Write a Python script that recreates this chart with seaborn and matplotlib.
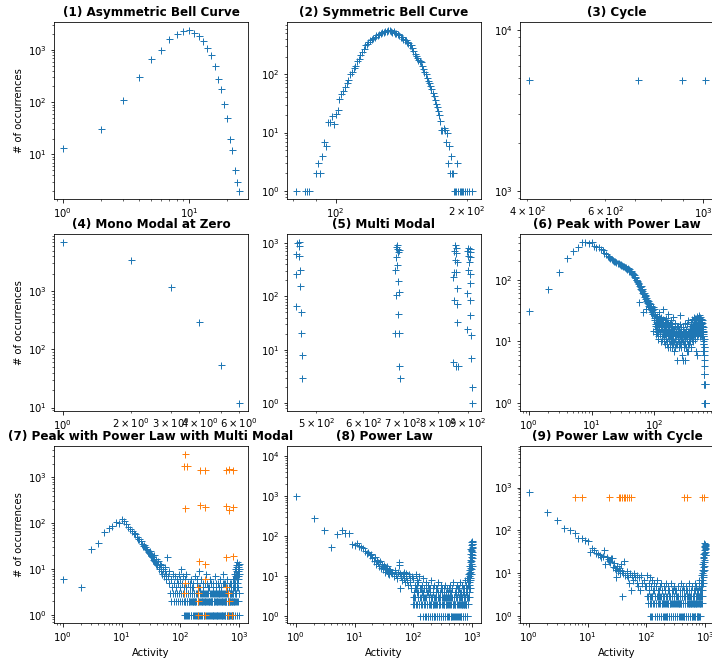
import matplotlib
matplotlib.use("Agg")
import matplotlib.pyplot as plt
import seaborn as sns

# (1) Asymmetric Bell Curve
x1 = [1, 2, 3, 4, 5, 6, 7, 8, 9, 10, 11, 12, 13, 14, 15, 16, 17, 18, 19, 20, 21, 22, 23, 24, 25]
y1 = [13, 30, 110, 300, 680, 1000, 1620, 2050, 2350, 2400, 2150, 1850, 1480, 1100, 800,
      490, 280, 180, 92, 50, 20, 12, 5, 3, 2]

# (2) Symmetric Bell Curve
x2 = [81, 85, 86, 87,
      90, 91, 92, 93, 94, 95, 96, 97, 98, 99,
      100, 101, 102, 103, 104, 105, 106, 107, 108, 109,
      110, 111, 112, 113, 114, 115, 116, 117, 118, 119,
      120, 121, 122, 123, 124, 125, 126, 127, 128, 129,
      130, 131, 132, 133, 134, 135, 136, 137, 138, 139,
      140, 141, 142, 143, 144, 145, 146, 147, 148, 149,
      150, 151, 152, 153, 154, 155, 156, 157, 158, 159,
      160, 161, 162, 163, 164, 165, 166, 167, 168, 169,
      170, 171, 172, 173, 174, 175, 176, 177, 178, 179,
      180, 181, 182, 183, 184, 185, 186, 187, 188, 189,
      190, 191, 193, 194, 195, 196, 198, 200, 203, 206]
y2 = [1, 1, 1, 1,
      2, 3, 2, 4, 7, 6, 15, 15, 19, 14,
      21, 24, 38, 45, 51, 60, 72, 80, 100, 110,
      130, 140, 165, 182, 210, 238, 270, 310, 330, 355,
      380, 395, 420, 440, 460, 470, 490, 505, 520, 530,
      540, 555, 560, 570, 555, 530, 540, 515, 500, 480,
      460, 440, 425, 400, 390, 380, 360, 340, 320, 310,
      280, 250, 222, 205, 190, 175, 165, 160, 140, 125,
      110, 100, 85, 75, 70, 63, 55, 48, 42, 36,
      31, 27, 23, 20, 16, 11, 11, 12, 11, 7,
      10, 3, 6, 2, 4, 2, 2, 1, 1, 1,
      3, 1, 1, 1, 1, 1, 1, 1, 1, 1]

# (3) Cycle
x3 = [403, 713, 893, 1009]
y3 = [4900, 4900, 4900, 4900]

# (4) Mono Modal at Zero
x4 = [1, 2, 3, 4, 5, 6]
y4 = [7000, 3400, 1170, 290, 54, 12]

# (5) Multi Modal
x5 = [467, 465, 467, 463, 468, 470, 462, 470, 462, 471, 472, 473, 474,
      683, 681, 685, 688, 687, 681, 685, 678, 687, 688, 681, 687, 678, 688, 690, 691,
      856, 858, 852, 860, 856, 863, 852, 860, 849, 863, 852, 863, 863, 849, 860, 865,
      901, 907, 897, 909, 901, 907, 903, 901, 909, 907, 897, 909, 909, 897, 912, 912, 915, 915]
y5 = [1050, 1000, 880, 630, 575, 318, 268, 158, 67, 50, 21, 8, 3,
      910, 850, 790, 730, 680, 550, 385, 310, 194, 123, 106, 47, 21, 21, 5, 3,
      910, 800, 710, 665, 490, 445, 290, 290, 233, 141, 86, 71, 33, 6, 5, 5,
      825, 790, 705, 680, 570, 550, 445, 310, 268, 182, 118, 86, 45, 25, 19, 7, 2, 1]

# (6) Peak with Power Law
x6 = [1, 2, 3, 4, 5, 6, 7, 8, 9, 10,
      11, 12, 13, 14, 15, 16, 17, 18, 19, 20,
      21, 22, 23, 24, 25, 26, 27, 28, 29, 30,
      31, 32, 33, 34, 35, 36, 37, 38, 39, 40,
      41, 42, 43, 44, 45, 46, 47, 48, 49, 50,
      51, 52, 53, 54, 55, 56, 57, 58, 59, 60,
      61, 62, 63, 64, 65, 66, 67, 68, 69, 70,
      71, 72, 73, 74, 75, 76, 77, 78, 79, 80,
      81, 82, 84, 85, 86, 88, 89, 90, 92, 93,
      95, 96, 97, 98, 99, 100, 101, 103, 104, 106,
      108, 110, 111, 113, 115, 117, 119, 121, 123, 125,
      127, 129, 131, 133, 135, 137, 140, 142, 144, 147,
      149, 152, 154, 157, 160, 162, 165, 168, 171, 174,
      177, 180, 183, 186, 189, 192, 195, 198, 201, 204,
      208, 211, 215, 218, 222, 226, 230, 234, 238, 242,
      246, 250, 254, 258, 262, 266, 270, 275, 280, 285,
      290, 295, 300, 305, 310, 315, 320, 325, 330, 335,
      340, 345, 350, 355, 360, 365, 370, 375, 380, 385,
      390, 395, 400, 405, 410, 415, 420, 425, 430, 435,
      440, 445, 450, 455, 460, 465, 470, 475, 480, 485,
      490, 495, 500, 505, 510, 515, 520, 525, 530, 535,
      540, 545, 550, 555, 560, 565, 570, 575, 580, 585,
      590, 595, 600, 603, 606, 609, 612, 615, 618, 620,
      622, 624, 626, 628, 630, 632, 634, 636, 638, 640,
      642, 644, 646, 648, 650,
      102, 105, 107, 109, 112, 114, 116, 118, 120, 122,
      124, 126, 128, 130, 132, 134, 136, 138, 139, 141,
      143, 145, 146, 148, 150, 151, 153, 155, 156, 158,
      159, 161, 163, 164, 166, 167, 169, 170, 172, 173,
      175, 176, 178, 179, 181, 182, 184, 185, 187, 188,
      190, 191, 193, 194, 196, 197, 199, 200, 202, 203,
      206, 210, 213, 217, 220, 224, 228, 232, 236, 240,
      244, 248, 252, 256, 260, 264, 268, 272, 278, 283,
      288, 293, 298, 302, 308, 313, 318, 323, 328, 333,
      338, 343, 348, 353, 358, 363, 368, 373, 378, 383,
      388, 393, 398, 403, 408, 413, 418, 423, 428, 433,
      438, 443, 448, 453, 458, 463, 468, 473, 478, 483,
      488, 493, 498, 503, 508, 513, 518, 523, 528, 533,
      538, 543, 548, 553, 558, 563, 568, 573, 578, 583,
      588, 593, 597, 601, 604, 607, 610, 613, 616, 619]
y6 = [31, 71, 133, 224, 295, 345, 405, 405, 400, 410,
      350, 345, 340, 320, 300, 275, 260, 245, 235, 225,
      220, 210, 205, 200, 192, 188, 185, 182, 178, 176,
      172, 170, 165, 160, 162, 158, 150, 155, 148, 140,
      138, 140, 132, 130, 125, 122, 118, 112, 110, 105,
      100, 98, 92, 95, 88, 85, 80, 44, 75, 72,
      78, 68, 70, 62, 66, 30, 58, 62, 52, 55,
      57, 48, 50, 46, 33, 44, 42, 47, 40, 45,
      38, 42, 36, 40, 34, 38, 30, 35, 32, 28,
      36, 15, 30, 26, 33, 24, 22, 18, 28, 16,
      21, 14, 26, 19, 12, 23, 17, 30, 13, 20,
      16, 25, 11, 18, 22, 14, 34, 17, 10, 20,
      15, 24, 12, 18, 9, 21, 14, 28, 11, 16,
      19, 8, 13, 22, 15, 10, 17, 12, 25, 7,
      14, 18, 11, 20, 9, 15, 13, 5, 17, 11,
      14, 8, 19, 12, 27, 10, 15, 6, 13, 5,
      17, 9, 12, 20, 5, 14, 8, 16, 11, 19,
      7, 13, 22, 10, 15, 9, 18, 12, 21, 8,
      16, 11, 23, 14, 19, 10, 17, 22, 13, 25,
      16, 20, 12, 24, 18, 7, 21, 15, 26, 19,
      6, 23, 17, 20, 24, 14, 27, 18, 22, 12,
      25, 16, 21, 19, 23, 13, 18, 22, 15, 20,
      17, 12, 14, 9, 11, 7, 8, 5, 6, 4,
      3, 3, 2, 3, 2, 1, 2, 1, 1, 2,
      1, 1, 1, 1, 1,
      19, 25, 13, 17, 22, 15, 11, 20, 16, 24,
      14, 18, 10, 21, 16, 12, 19, 23, 13, 15,
      12, 18, 22, 9, 16, 13, 20, 11, 15, 19,
      14, 10, 17, 12, 21, 8, 13, 18, 15, 11,
      17, 12, 14, 20, 9, 16, 11, 13, 18, 10,
      15, 12, 8, 19, 13, 11, 16, 9, 14, 12,
      16, 10, 13, 8, 15, 12, 18, 9, 14, 11,
      10, 16, 13, 9, 14, 12, 8, 17, 11, 14,
      10, 13, 8, 15, 11, 9, 14, 12, 7, 13,
      11, 15, 9, 12, 14, 11, 13, 16, 10, 14,
      12, 15, 13, 17, 11, 16, 14, 12, 18, 15,
      13, 18, 15, 11, 20, 14, 17, 12, 19, 16,
      14, 19, 16, 13, 18, 15, 21, 17, 14, 19,
      16, 20, 14, 17, 13, 18, 15, 12, 16, 14,
      13, 15, 11, 12, 10, 13, 9, 11, 8, 7]

# (7) Peak with Power Law with Multi Modal
x7 = [1, 2, 3, 4, 5, 6, 7, 8, 9, 10,
      11, 12, 13, 14, 15, 16, 17, 18, 19, 20,
      21, 22, 23, 24, 25, 26, 27, 28, 29, 30,
      31, 32, 33, 34, 35, 36, 37, 38, 39, 40,
      42, 43, 44, 45, 46, 47, 48, 50, 52, 54,
      55, 57, 58, 60, 62, 63, 65, 66, 68, 70,
      72, 74, 75, 77, 79, 80, 82, 84, 85, 87,
      88, 90, 92, 94, 95, 97, 99, 100, 102, 104,
      106, 108, 110, 112, 113, 115, 117, 119, 121, 123,
      125, 127, 130, 132, 134, 136, 138, 140, 143, 146,
      149, 152, 155, 158, 161, 164, 167, 170, 173, 176,
      180, 184, 188, 192, 196, 200, 204, 208, 212, 216,
      220, 225, 230, 235, 240, 245, 250, 255, 260, 265,
      270, 275, 280, 285, 290, 296, 302, 308, 314, 320,
      326, 332, 338, 344, 350, 356, 362, 368, 375, 382,
      389, 396, 403, 410, 417, 424, 431, 438, 446, 454,
      462, 470, 478, 486, 494, 502, 510, 518, 527, 536,
      545, 554, 563, 572, 581, 590, 600, 610, 620, 630,
      640, 650, 660, 670, 680, 690, 700, 710, 720, 730,
      740, 750, 760, 770, 780, 790, 800, 810, 820, 830,
      840, 850, 860, 870, 880, 890, 900, 910, 920, 930,
      940, 950, 960, 970, 980, 990, 1000,
      114, 118, 122, 126, 129, 133, 137, 141, 145, 148,
      151, 154, 157, 160, 163, 166, 169, 172, 175, 178,
      182, 186, 190, 194, 198, 202, 206, 210, 214, 218,
      222, 227, 232, 237, 242, 247, 252, 257, 262, 267,
      272, 278, 283, 288, 293, 299, 305, 311, 317, 323,
      329, 335, 341, 347, 353, 359, 365, 371, 378, 385,
      392, 399, 406, 413, 420, 427, 434, 442, 450, 458,
      466, 474, 482, 490, 498, 506, 514, 522, 531, 540,
      549, 558, 567, 576, 585, 595, 605, 615, 625, 635,
      645, 655, 665, 675, 685, 695, 705, 715, 725, 735,
      745, 755, 765, 775, 785, 795, 805, 815, 825, 835,
      845, 855, 865, 875, 885, 895, 905, 915, 925, 935,
      945, 955, 965, 975, 985, 995]
y7 = [6, 4, 28, 37, 66, 78, 88, 109, 100, 123,
      110, 95, 82, 75, 68, 60, 58, 50, 45, 46,
      40, 35, 32, 34, 30, 28, 26, 24, 22, 21,
      25, 19, 18, 16, 20, 15, 14, 17, 13, 12,
      15, 11, 10, 13, 9, 12, 8, 10, 7, 11,
      9, 6, 8, 18, 7, 5, 9, 3, 2, 6,
      4, 8, 3, 2, 5, 7, 3, 2, 4, 6,
      3, 2, 5, 8, 3, 2, 4, 6, 10, 3,
      2, 5, 7, 3, 1, 2, 4, 6, 2, 1,
      3, 8, 2, 1, 5, 3, 2, 1, 4, 2,
      1, 6, 3, 2, 1, 4, 2, 1, 3, 7,
      2, 1, 5, 3, 2, 1, 4, 9, 2, 1,
      3, 6, 2, 1, 4, 2, 1, 3, 5, 2,
      1, 8, 3, 2, 1, 4, 2, 1, 3, 6,
      2, 1, 5, 3, 2, 1, 4, 2, 1, 3,
      7, 2, 1, 4, 2, 1, 3, 5, 2, 1,
      3, 6, 2, 1, 4, 2, 1, 3, 8, 2,
      1, 5, 3, 2, 1, 4, 2, 1, 3, 6,
      2, 1, 4, 2, 1, 3, 5, 2, 1, 4,
      3, 2, 1, 6, 3, 2, 1, 4, 8, 2,
      1, 5, 10, 3, 12, 2, 7, 1, 14, 4,
      9, 2, 11, 6, 1, 13, 3,
      3, 2, 1, 4, 2, 3, 1, 2, 5, 3,
      2, 1, 4, 3, 2, 5, 3, 2, 1, 2,
      3, 2, 1, 6, 2, 3, 1, 2, 3, 4,
      2, 1, 3, 2, 5, 3, 2, 1, 3, 2,
      3, 2, 1, 5, 2, 3, 2, 4, 1, 2,
      3, 2, 1, 2, 3, 5, 1, 3, 2, 1,
      2, 3, 5, 1, 3, 2, 1, 2, 3, 4,
      1, 3, 4, 2, 3, 1, 2, 5, 3, 1,
      2, 3, 1, 2, 5, 3, 2, 4, 1, 2,
      3, 2, 1, 4, 3, 2, 1, 3, 2, 5,
      1, 3, 2, 4, 1, 3, 6, 2, 5, 3,
      7, 2, 4, 9, 3, 11, 5, 8, 2, 6,
      12, 4, 7, 10, 3, 8]
x7_modal = [121, 113, 132, 215, 267, 598, 681, 773,
            121, 215, 267, 598, 663, 773,
            207, 267, 598, 773, 267, 121, 115, 203,
            203, 598, 640, 203, 663, 203, 267, 640, 755]
y7_modal = [3230, 1740, 1740, 1465, 1465, 1465, 1500, 1480,
            213, 250, 229, 240, 195, 221,
            15, 13, 18, 19, 6, 5, 3, 4,
            3, 4, 3, 2, 2, 1, 1, 1, 1]

# (8) Power Law
x8 = [1, 2, 3, 4, 5, 6, 7, 8, 9, 10,
      11, 12, 13, 14, 15, 16, 17, 18, 19, 20,
      21, 22, 23, 24, 25, 26, 27, 28, 29, 30,
      31, 32, 33, 34, 35, 36, 37, 38, 39, 40,
      42, 44, 46, 48, 50, 52, 54, 56, 58, 59,
      60, 62, 64, 66, 68, 70, 72, 74, 76, 78,
      80, 83, 86, 89, 92, 95, 97, 99,
      100, 102, 104, 106, 108, 110, 112, 114, 116, 118,
      120, 122, 124, 126, 128, 130, 133, 136, 139, 142,
      145, 148, 151, 154, 157, 160, 163, 166, 169, 172,
      175, 178, 181, 184, 187, 190, 194, 198, 202, 206,
      210, 214, 218, 222, 226, 230, 235, 240, 245, 250,
      255, 260, 265, 270, 275, 280, 286, 292, 298, 304,
      310, 316, 322, 328, 334, 340, 347, 354, 361, 368,
      375, 382, 389, 396, 404, 412, 420, 428, 436, 444,
      452, 460, 469, 478, 487, 496, 505, 514, 523, 532,
      542, 552, 562, 572, 582, 592, 602, 612, 622, 632,
      642, 652, 662, 672, 682, 692, 702, 712, 722, 732,
      742, 752, 762, 772, 782, 792, 802, 812, 822, 832,
      842, 852, 862, 872, 880, 888, 896, 904, 912, 920,
      928, 936, 944, 952, 958, 964, 970, 976, 982, 988,
      994, 1000,
      101, 105, 109, 113, 117, 121, 125, 129, 134, 138,
      143, 147, 152, 156, 161, 165, 170, 174, 179, 183,
      188, 192, 196, 200, 204, 208, 212, 216, 220, 224,
      228, 233, 238, 243, 248, 253, 258, 263, 268, 273,
      278, 284, 290, 296, 302, 308, 314, 320, 326, 332,
      338, 344, 351, 358, 365, 372, 379, 386, 393, 400,
      408, 416, 424, 432, 440, 448, 456, 464, 473, 482,
      491, 500, 509, 518, 527, 537, 547, 557, 567, 577,
      587, 597, 607, 617, 627, 637, 647, 657, 667, 677,
      687, 697, 707, 717, 727, 737, 747, 757, 767, 777,
      787, 797, 807, 817, 827, 837, 847, 857, 867, 876,
      884, 892, 900, 908, 916, 924, 932, 940, 948, 956,
      962, 968, 974, 980, 986, 992, 997]
y8 = [1000, 290, 140, 55, 115, 140, 120, 118, 62, 60,
      68, 58, 55, 50, 43, 38, 40, 33, 35, 28,
      24, 30, 20, 26, 22, 18, 24, 16, 20, 17,
      15, 19, 13, 16, 14, 18, 12, 15, 11, 14,
      13, 12, 10, 14, 11, 9, 13, 19, 22, 5,
      12, 10, 8, 11, 9, 13, 7, 10, 12, 8,
      6, 11, 9, 7, 5, 10, 3, 2,
      9, 4, 2, 6, 3, 11, 5, 2, 8, 3,
      4, 7, 2, 10, 1, 3, 5, 2, 6, 4,
      3, 9, 2, 5, 1, 3, 7, 1, 4, 2,
      6, 1, 3, 5, 2, 1, 4, 8, 2, 1,
      3, 5, 2, 1, 6, 3, 1, 4, 2, 5,
      1, 3, 7, 2, 1, 4, 3, 1, 6, 2,
      5, 1, 3, 2, 4, 1, 6, 2, 3, 1,
      5, 4, 2, 1, 3, 6, 2, 1, 4, 3,
      5, 1, 2, 7, 3, 1, 4, 2, 5, 1,
      3, 6, 2, 1, 4, 3, 5, 1, 2, 7,
      4, 1, 3, 2, 6, 1, 4, 3, 5, 2,
      1, 8, 3, 6, 2, 4, 1, 9, 5, 3,
      11, 2, 7, 14, 4, 18, 6, 25, 9, 35,
      13, 48, 20, 60, 30, 72, 42, 55, 75, 28,
      65, 40,
      3, 5, 2, 4, 6, 3, 2, 5, 3, 2,
      1, 4, 3, 2, 5, 3, 2, 1, 4, 3,
      2, 5, 3, 2, 1, 3, 2, 4, 3, 2,
      1, 2, 3, 5, 1, 2, 4, 3, 2, 1,
      3, 2, 5, 1, 3, 4, 2, 1, 3, 2,
      5, 3, 1, 2, 4, 3, 2, 1, 3, 5,
      2, 3, 4, 1, 2, 5, 3, 2, 1, 3,
      2, 3, 1, 2, 3, 4, 1, 3, 2, 5,
      3, 2, 1, 3, 4, 2, 3, 1, 2, 3,
      2, 5, 1, 2, 3, 4, 2, 1, 3, 2,
      5, 2, 3, 1, 4, 6, 3, 8, 5, 10,
      3, 7, 12, 5, 16, 8, 22, 11, 35, 15,
      45, 24, 65, 18, 50, 70, 33]

# (9) Power Law with Cycle
x9 = [1, 2, 3, 4, 5, 6, 7, 8, 9, 10,
      11, 12, 13, 14, 15, 16, 17, 18, 19, 20,
      21, 22, 23, 24, 25, 26, 27, 28, 29, 30,
      31, 32, 33, 34, 35, 36, 37, 38, 39, 40,
      42, 44, 46, 47, 48, 50, 52, 55, 57, 60,
      62, 65, 68, 70, 72, 75, 78, 80, 85, 90,
      95,
      100, 103, 105, 107, 109, 111, 113, 115, 117, 119,
      121, 123, 125, 127, 130, 133, 136, 139, 142, 145,
      148, 151, 154, 157, 160, 163, 166, 169, 172, 175,
      178, 181, 185, 189, 193, 197, 201, 205, 209, 213,
      217, 221, 226, 231, 236, 241, 246, 251, 256, 261,
      267, 273, 279, 285, 291, 297, 303, 309, 316, 323,
      330, 337, 344, 351, 358, 366, 374, 382, 390, 398,
      406, 414, 422, 431, 440, 449, 458, 467, 476, 486,
      496, 506, 516, 526, 536, 546, 557, 568, 579, 590,
      601, 612, 623, 634, 645, 656, 667, 678, 689, 700,
      711, 722, 733, 744, 755, 766, 777, 788, 799, 810,
      821, 832, 843, 854, 865, 876, 884, 892, 900, 908,
      916, 924, 932, 940, 948, 956, 964, 972, 980, 988,
      996, 1000,
      102, 106, 110, 114, 118, 122, 126, 131, 135, 140,
      144, 149, 153, 158, 162, 167, 171, 176, 180, 184,
      188, 192, 196, 200, 204, 208, 212, 216, 220, 224,
      229, 234, 239, 244, 249, 254, 259, 264, 270, 276,
      282, 288, 294, 300, 306, 312, 319, 326, 333, 340,
      347, 354, 362, 370, 378, 386, 394, 402, 410, 418,
      426, 435, 444, 453, 462, 471, 481, 491, 501, 511,
      521, 531, 541, 551, 562, 573, 584, 595, 606, 617,
      628, 639, 650, 661, 672, 683, 694, 705, 716, 727,
      738, 749, 760, 771, 782, 793, 804, 815, 826, 837,
      848, 859, 870, 880, 888, 896, 904, 912, 920, 928,
      936, 944, 952, 960, 968, 976, 984, 992, 998]
y9 = [780, 270, 175, 114, 100, 85, 66, 66, 59, 55,
      32, 38, 35, 30, 28, 27, 24, 25, 35, 16,
      24, 21, 19, 18, 22, 23, 14, 17, 13, 8,
      12, 15, 11, 13, 10, 12, 16, 3, 11, 10,
      19, 9, 11, 9, 8, 6, 10, 4, 9, 7,
      10, 8, 6, 9, 5, 8, 4, 9, 6, 7,
      5,
      5, 9, 3, 2, 6, 4, 8, 3, 1, 5,
      2, 7, 3, 1, 4, 2, 6, 1, 3, 5,
      2, 1, 7, 3, 4, 1, 2, 5, 3, 1,
      6, 2, 4, 1, 3, 2, 5, 1, 4, 2,
      6, 1, 3, 2, 5, 1, 4, 2, 3, 1,
      6, 2, 4, 1, 3, 5, 2, 1, 4, 3,
      2, 1, 5, 3, 2, 1, 4, 6, 2, 1,
      3, 5, 2, 1, 4, 3, 2, 1, 5, 2,
      4, 1, 3, 2, 6, 1, 3, 4, 2, 1,
      5, 3, 2, 1, 4, 2, 6, 1, 3, 5,
      2, 1, 4, 3, 2, 1, 5, 3, 7, 2,
      1, 4, 9, 3, 6, 12, 2, 16, 5, 22,
      8, 28, 11, 35, 15, 42, 20, 50, 32, 45,
      38, 26,
      3, 2, 4, 2, 3, 1, 3, 2, 4, 3,
      2, 3, 1, 2, 3, 4, 2, 3, 1, 2,
      3, 2, 1, 3, 2, 4, 1, 3, 2, 1,
      2, 4, 3, 1, 2, 3, 1, 2, 4, 3,
      2, 1, 3, 2, 4, 1, 2, 3, 1, 2,
      3, 2, 1, 2, 3, 1, 2, 4, 3, 1,
      2, 3, 1, 2, 3, 4, 1, 3, 2, 1,
      3, 2, 4, 2, 1, 2, 3, 1, 2, 3,
      1, 2, 3, 4, 2, 1, 3, 2, 1, 3,
      2, 4, 1, 2, 3, 1, 4, 2, 3, 5,
      2, 4, 7, 3, 10, 4, 14, 6, 18, 9,
      24, 12, 30, 40, 18, 48, 27, 36, 44]
x9_cycle = [6, 8, 23, 34, 36, 38, 41, 44, 47, 51, 55, 430, 500, 880, 960]
y9_cycle = [600, 600, 600, 600, 600, 600, 600, 600, 600, 600, 600, 600, 600, 600, 600]

titles = ["(1) Asymmetric Bell Curve", "(2) Symmetric Bell Curve", "(3) Cycle",
          "(4) Mono Modal at Zero", "(5) Multi Modal", "(6) Peak with Power Law",
          "(7) Peak with Power Law with Multi Modal", "(8) Power Law",
          "(9) Power Law with Cycle"]

W, H = 712, 658
fig = plt.figure(figsize=(W / 72, H / 72), dpi=72)

col_left = [54, 287, 520]
row_top = [22, 234, 446]
aw, ah = 194, 177


def panel(i):
    r, c = divmod(i, 3)
    ax = fig.add_axes([col_left[c] / W, 1 - (row_top[r] + ah) / H, aw / W, ah / H])
    ax.set_xscale("log")
    ax.set_yscale("log")
    return ax


def pts(ax, x, y, color="C0"):
    sns.scatterplot(x=x, y=y, ax=ax, marker="+", color=color, s=49, linewidth=1)


series = [(x1, y1), (x2, y2), (x3, y3), (x4, y4), (x5, y5),
          (x6, y6), (x7, y7), (x8, y8), (x9, y9)]
axes = []
for i, (x, y) in enumerate(series):
    ax = panel(i)
    pts(ax, x, y)
    axes.append(ax)

pts(axes[6], x7_modal, y7_modal, color="C1")
pts(axes[8], x9_cycle, y9_cycle, color="C1")

axes[7].set_ylim(10 ** -0.175, 10 ** 4.26)
axes[8].set_ylim(10 ** -0.165, 10 ** 3.97)

for i, ax in enumerate(axes):
    ax.set_title(titles[i], fontweight="bold")
    ax.set_ylabel("# of occurrences" if i % 3 == 0 else "")
    ax.set_xlabel("Activity" if i >= 6 else "")

fig.savefig("out.png", dpi=72)
